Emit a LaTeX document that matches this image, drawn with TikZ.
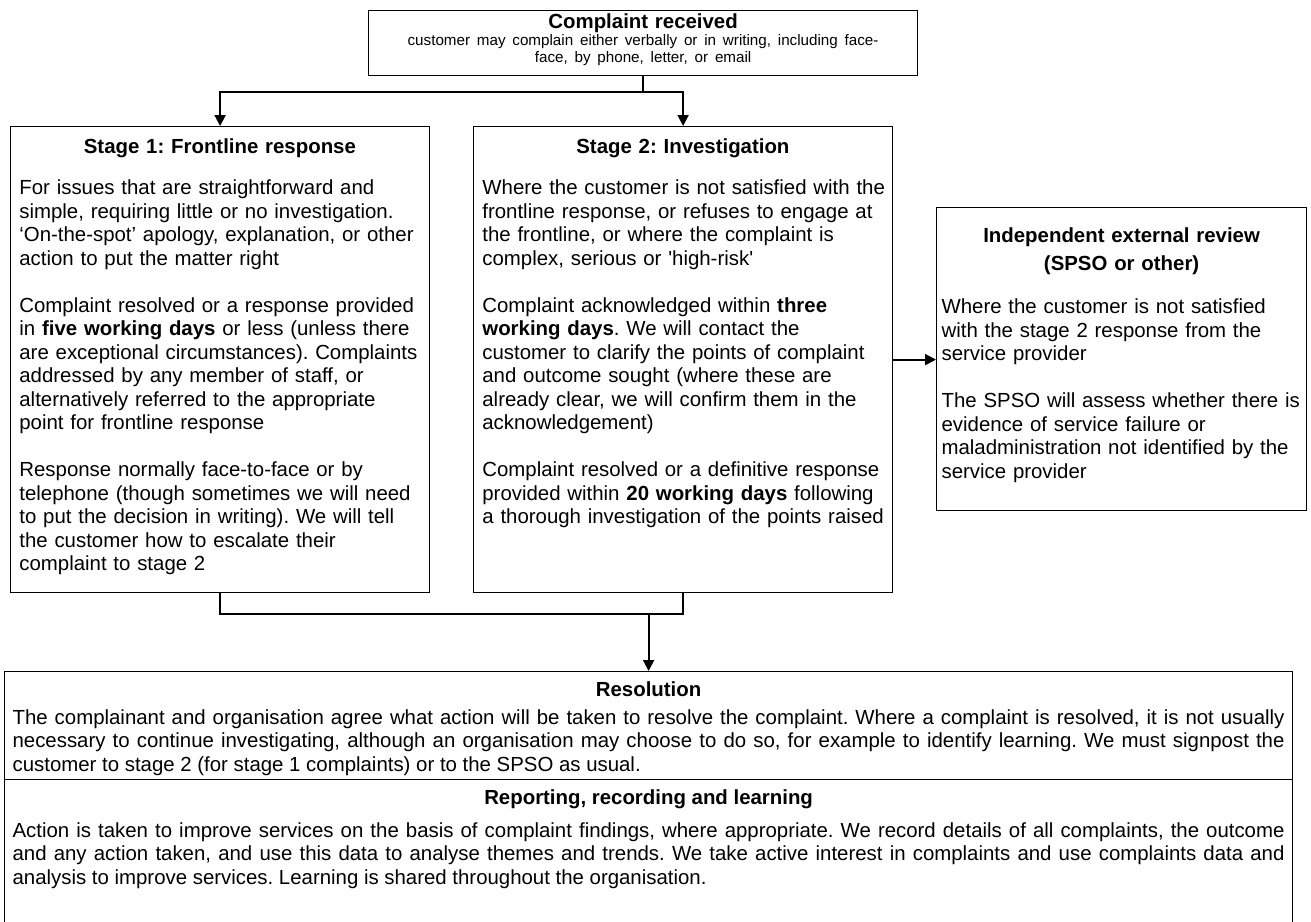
\documentclass[tikz,border=0pt]{standalone}
\usepackage{fontspec}
\setmainfont{Liberation Sans}
\usetikzlibrary{arrows.meta}

\newcommand\diagtext{\fontsize{10.2}{11.75}\selectfont\frenchspacing}
\newcommand\smalltext{\fontsize{7.6}{8.6}\selectfont}
\newcommand\pgap{\par\vspace{11.75pt}}

\begin{document}
\begin{tikzpicture}[x=0.5pt,y=-0.5pt,
      box/.style={draw,line width=0.6pt,inner sep=0pt,anchor=north west},
      txt/.style={anchor=north west,inner sep=0pt,text width=#1,align=left,font=\diagtext},
      arr/.style={line width=1pt,-{Triangle[width=5.5pt,length=5.5pt]}},
      lnk/.style={line width=1pt}]
    \useasboundingbox (0,0) rectangle (1311,921);

    % boxes (corners in pixels)
    \node[box,minimum width=274.5pt,minimum height=32.5pt] (top) at (368,10) {};
    \node[box,minimum width=209.5pt,minimum height=233pt]  (s1)  at (10,126) {};
    \node[box,minimum width=209.5pt,minimum height=233pt]  (s2)  at (473,126) {};
    \node[box,minimum width=185pt,minimum height=151.5pt]  (ext) at (936,207) {};
    \node[box,minimum width=644pt,minimum height=54pt]     (res) at (4,671) {};
    \node[box,minimum width=644pt,minimum height=73pt]     (rep) at (4,779) {};

    % texts
    \node[txt=270pt,anchor=north,align=center] (toptxt) at ([yshift=-1.5pt]top.north) {%
      \textbf{Complaint received}\par
      {\smalltext customer may complain either verbally or in writing, including face-\\
      face, by phone, letter, or email\par}};

    \node[txt=206pt] (s1txt) at ([xshift=4.5pt,yshift=-6pt]s1.north west) {%
      \makebox[200.5pt]{\bfseries Stage 1: Frontline response}\par\vspace{9pt}
      For issues that are straightforward and\\
      simple, requiring little or no investigation.\\
      ‘On-the-spot’ apology, explanation, or other\\
      action to put the matter right\pgap
      Complaint resolved or a response provided\\
      in \textbf{five working days} or less (unless there\\
      are exceptional circumstances). Complaints\\
      addressed by any member of staff, or\\
      alternatively referred to the appropriate\\
      point for frontline response\pgap
      Response normally face-to-face or by\\
      telephone (though sometimes we will need\\
      to put the decision in writing). We will tell\\
      the customer how to escalate their\\
      complaint to stage 2};

    \node[txt=206pt] (s2txt) at ([xshift=4.5pt,yshift=-6pt]s2.north west) {%
      \makebox[200.5pt]{\bfseries Stage 2: Investigation}\par\vspace{9pt}
      Where the customer is not satisfied with the\\
      frontline response, or refuses to engage at\\
      the frontline, or where the complaint is\\
      complex, serious or {\textquotesingle}high-risk{\textquotesingle}\pgap
      Complaint acknowledged within \textbf{three}\\
      \textbf{working days}. We will contact the\\
      customer to clarify the points of complaint\\
      and outcome sought (where these are\\
      already clear, we will confirm them in the\\
      acknowledgement)\pgap
      Complaint resolved or a definitive response\\
      provided within \textbf{20 working days} following\\
      a thorough investigation of the points raised};

    \node[txt=180pt,anchor=north] (exttxt) at ([yshift=-10pt]ext.north) {%
      {\centering\bfseries Independent external review\par\vspace{2.25pt}
      (SPSO or other)\par}\vspace{10pt}
      Where the customer is not satisfied\\
      with the stage 2 response from the\\
      service provider\pgap
      The SPSO will assess whether there is\\
      evidence of service failure or\\
      maladministration not identified by the\\
      service provider};

    \node[txt=636pt,anchor=north,align=justify] (restxt) at ([yshift=-5pt]res.north) {%
      {\centering\bfseries Resolution\par}\vspace{2.25pt}
      The complainant and organisation agree what action will be taken to resolve the complaint. Where a complaint is resolved, it is not usually\linebreak
      necessary to continue investigating, although an organisation may choose to do so, for example to identify learning. We must signpost the\linebreak
      customer to stage 2 (for stage 1 complaints) or to the SPSO as usual.};

    \node[txt=636pt,anchor=north,align=justify] (reptxt) at ([yshift=-5pt]rep.north) {%
      {\centering\bfseries Reporting, recording and learning\par}\vspace{4.75pt}
      Action is taken to improve services on the basis of complaint findings, where appropriate. We record details of all complaints, the outcome\linebreak
      and any action taken, and use this data to analyse themes and trends. We take active interest in complaints and use complaints data and\linebreak
      analysis to improve services. Learning is shared throughout the organisation.};

    % connectors
    \draw[arr] (top.south) -- ++(0,16) -| (s1.north);
    \draw[arr] (top.south) -- ++(0,16) -| (s2.north);
    \draw[lnk] (s1.south) -- ++(0,21) coordinate (mid) -| (s2.south);
    \draw[arr] (mid -| res.north) -- (res.north);
    \draw[arr] (s2.east) -- (s2.east -| ext.west);
  \end{tikzpicture}
\end{document}
